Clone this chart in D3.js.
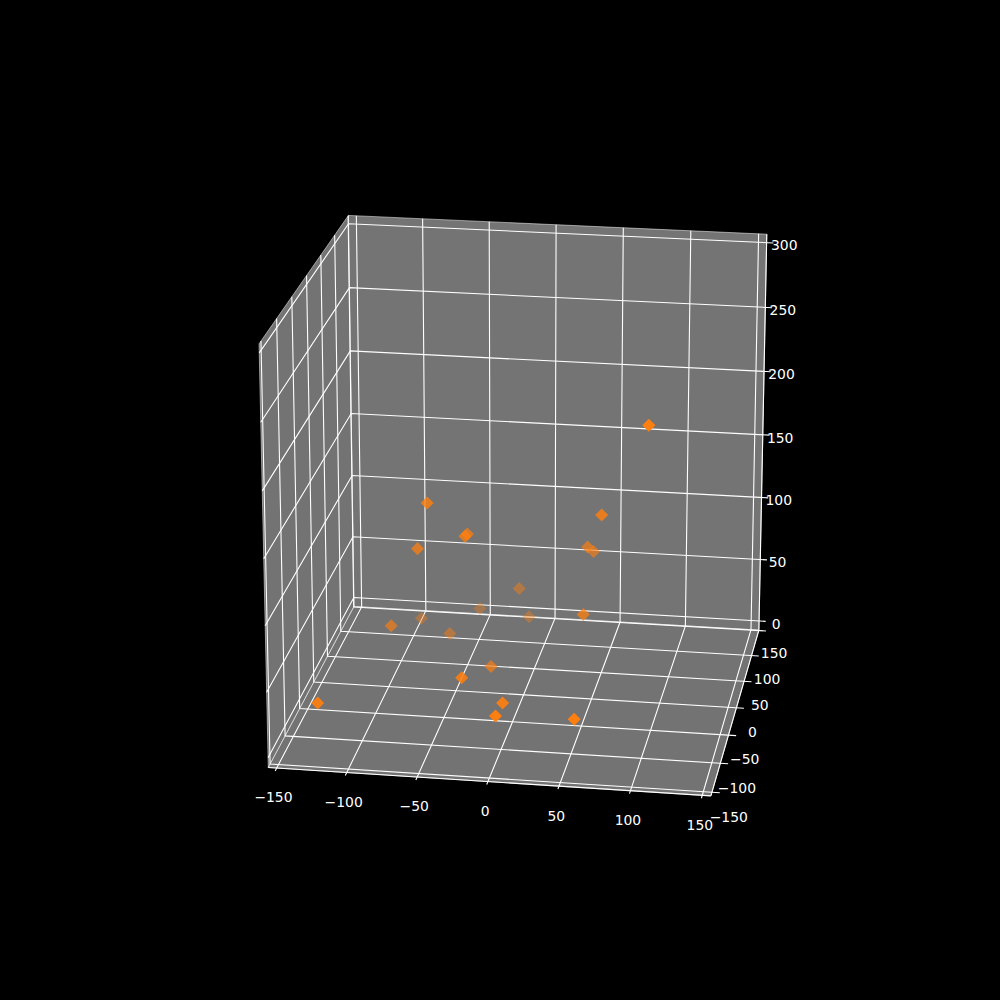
<!DOCTYPE html>
<html><head><meta charset="utf-8"><script src="https://cdn.jsdelivr.net/npm/d3@7"></script>
<style>html,body{margin:0;background:#000}svg{display:block}</style></head><body>
<script>
const xTicks=[-150,-100,-50,0,50,100,150];
const yTicks=[-150,-100,-50,0,50,100,150];
const zTicks=[0,50,100,150,200,250,300];
const xValues=[88.7,52.4,-74,-48,-48,-83.3,36.5,39.5,-21,-54.4,-15.1,-95.8,39.3,-103.5,-69.6,-28.2,-39.5,-8,-9,47,-138.3];
const yValues=[10,30,20,40,30,30,70,80,110,130,120,110,30,30,85,25,-35,-45,-70,-65,-70];
const zValues=[203.2,125,130.8,100.5,102.6,90.8,84,76.8,31.8,5.5,5.2,3,46.3,28.5,2.2,2.8,18,4.6,5,4,6.6];

const xl=[-156,156],yl=[-156,151],zl=[-7.5,306.5];
const sx=d3.scaleLinear(xl,[0,1]), sy=d3.scaleLinear(yl,[0,1]), sz=d3.scaleLinear(zl,[0,1]);
const elev=20*Math.PI/180, azim=-81*Math.PI/180, dist=10, S=4355, cx=523, cy=495;
const w=[Math.cos(elev)*Math.cos(azim),Math.cos(elev)*Math.sin(azim),Math.sin(elev)];
const nu=Math.hypot(w[0],w[1]); const u=[-w[1]/nu,w[0]/nu,0];
const v=[w[1]*u[2]-w[2]*u[1],w[2]*u[0]-w[0]*u[2],w[0]*u[1]-w[1]*u[0]];
const eye=[.5+dist*w[0],.5+dist*w[1],.5+dist*w[2]];
const dot=(a,b)=>a[0]*b[0]+a[1]*b[1]+a[2]*b[2];
function proj(x,y,z){const P=[sx(x)-eye[0],sy(y)-eye[1],sz(z)-eye[2]];const d=-dot(w,P);return [cx+S*dot(u,P)/d,cy-S*dot(v,P)/d,d];}
const svg=d3.select('body').append('svg').attr('width',1000).attr('height',1000).style('background','#000');
const line=d3.line();
const P2=p=>proj(...p).slice(0,2);
function poly(pts,f){svg.append('path').attr('d',line(pts.map(P2))+'Z').attr('fill',f).attr('fill-opacity',.5).attr('stroke','#fff').attr('stroke-opacity',.5).attr('stroke-width',1);}
poly([[xl[0],yl[0],zl[0]],[xl[0],yl[1],zl[0]],[xl[0],yl[1],zl[1]],[xl[0],yl[0],zl[1]]],'#e6e6e6');
poly([[xl[0],yl[1],zl[0]],[xl[1],yl[1],zl[0]],[xl[1],yl[1],zl[1]],[xl[0],yl[1],zl[1]]],'#e8e8e8');
poly([[xl[0],yl[0],zl[0]],[xl[1],yl[0],zl[0]],[xl[1],yl[1],zl[0]],[xl[0],yl[1],zl[0]]],'#e6e6e6');
function gl(pts,sw){svg.append('path').attr('d',line(pts.map(P2))).attr('fill','none').attr('stroke','#fff').attr('stroke-width',sw||1.1);}
gl([[xl[0],yl[0],zl[0]],[xl[1],yl[0],zl[0]]]);gl([[xl[1],yl[0],zl[0]],[xl[1],yl[1],zl[0]]]);gl([[xl[1],yl[1],zl[0]],[xl[1],yl[1],zl[1]]]);
xTicks.forEach(t=>gl([[t,yl[0]-5,zl[0]],[t,yl[1],zl[0]],[t,yl[1],zl[1]]]));
yTicks.forEach(t=>gl([[xl[0],t,zl[1]],[xl[0],t,zl[0]],[xl[1]+5.5,t,zl[0]]]));
zTicks.forEach(t=>gl([[xl[0],yl[0],t],[xl[0],yl[1],t],[xl[1]+5,yl[1],t]]));
const pts=xValues.map((x,i)=>proj(x,yValues[i],zValues[i]));
const op=d3.scaleLinear(d3.extent(pts,p=>p[2]),[1,.35]);
svg.append('g').selectAll('path').data(pts.slice().sort((a,b)=>b[2]-a[2])).join('path')
 .attr('transform',p=>`translate(${p[0]},${p[1]}) rotate(45)`).attr('d',d3.symbol(d3.symbolSquare,85)())
 .attr('fill','#ff7f0e').attr('fill-opacity',p=>op(p[2]));
const T=(p,s)=>svg.append('text').attr('x',p[0]).attr('y',p[1]).attr('fill','#fff').attr('font-size',13.9).attr('font-family','DejaVu Sans').attr('text-anchor','middle').attr('dominant-baseline','central').text(String(s).replace('-','−'));
xTicks.forEach(t=>T(proj(t,yl[0]-12,zl[0]-17),t));
yTicks.forEach(t=>T(proj(xl[1]+12,t,zl[0]-18),t));
zTicks.forEach(t=>T(proj(xl[1]+13,yl[1],t-1.5),t));
</script></body></html>
